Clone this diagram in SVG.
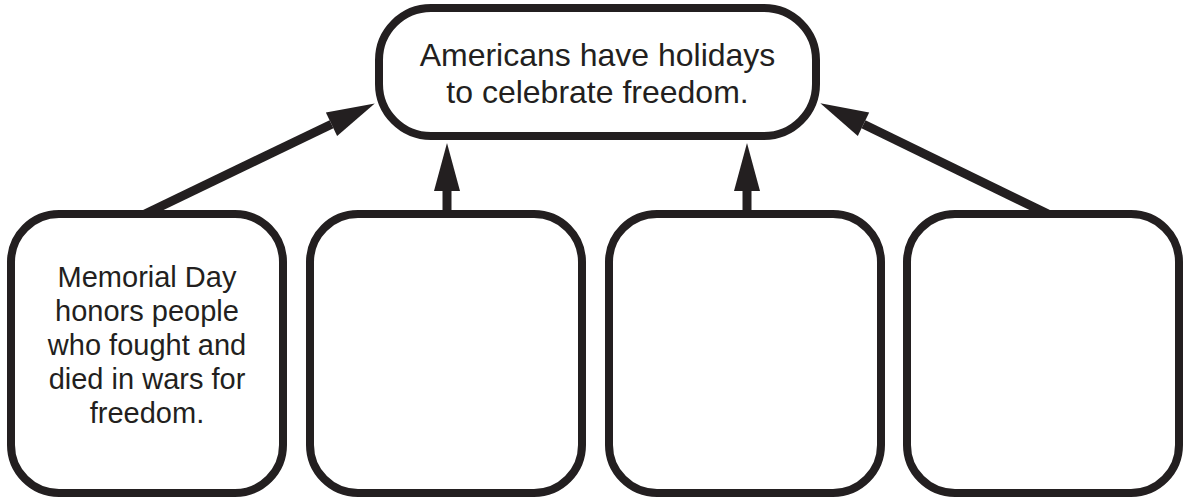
<svg xmlns="http://www.w3.org/2000/svg" width="1189" height="500" viewBox="0 0 1189 500">
<style>
.box{fill:#fff;stroke:#231f20;stroke-width:8}
.conn{stroke:#231f20;stroke-width:9;fill:none}
.t{font-family:"Liberation Sans",Arial,sans-serif;fill:#231f20;text-anchor:middle}
</style>
<defs>
<marker id="ah" markerUnits="userSpaceOnUse" markerWidth="50" markerHeight="28" refX="0" refY="13" orient="auto" overflow="visible">
<path d="M0,0 L48,13 L0,26 Z" fill="#231f20"/>
</marker>
</defs>
<rect width="1189" height="500" fill="#fff"/>
<g id="connectors">
<line class="conn" x1="145" y1="214" x2="331.5" y2="124.2" marker-end="url(#ah)"/>
<line class="conn" x1="447" y1="216" x2="447" y2="191" marker-end="url(#ah)"/>
<line class="conn" x1="747" y1="216" x2="747" y2="191" marker-end="url(#ah)"/>
<line class="conn" x1="1048" y1="214" x2="863.5" y2="124.2" marker-end="url(#ah)"/>
</g>
<g id="top">
<rect class="box" x="379" y="8" width="437" height="128" rx="52" ry="52"/>
<text class="t" font-size="32" x="597.5" y="66">Americans have holidays</text>
<text class="t" font-size="32" x="597.5" y="103">to celebrate freedom.</text>
</g>
<g id="box1">
<rect class="box" x="11" y="214" width="272" height="279" rx="48" ry="48"/>
<text class="t" font-size="29" x="147" y="287">Memorial Day</text>
<text class="t" font-size="29" x="147" y="321">honors people</text>
<text class="t" font-size="29" x="147" y="355">who fought and</text>
<text class="t" font-size="29" x="147" y="389">died in wars for</text>
<text class="t" font-size="29" x="147" y="423">freedom.</text>
</g>
<g id="box2">
<rect class="box" x="310" y="214" width="272" height="279" rx="48" ry="48"/>
</g>
<g id="box3">
<rect class="box" x="609" y="214" width="272" height="279" rx="48" ry="48"/>
</g>
<g id="box4">
<rect class="box" x="907" y="214" width="272" height="279" rx="48" ry="48"/>
</g>
</svg>
